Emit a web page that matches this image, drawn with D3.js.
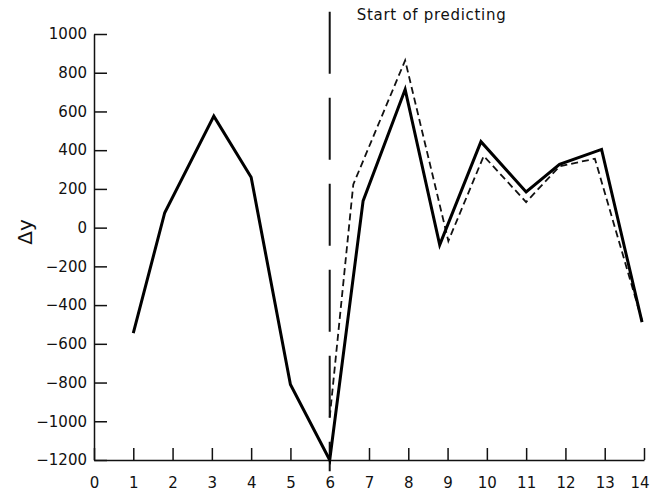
<!DOCTYPE html>
<html>
<head>
<meta charset="utf-8">
<script src="https://cdn.jsdelivr.net/npm/d3@7"></script>
<style>
body { margin: 0; background: #fff; }
text { font-family: "DejaVu Sans", sans-serif; fill: #111; }
</style>
</head>
<body>
<div id="chart"></div>
<script>
// data
var xTicks = [0, 1, 2, 3, 4, 5, 6, 7, 8, 9, 10, 11, 12, 13, 14];
var yTicks = [1000, 800, 600, 400, 200, 0, -200, -400, -600, -800, -1000, -1200];

// observed series (solid)
var actualX = [1, 1.8, 3.05, 4, 5, 6, 6.85, 7.92, 8.8, 9.85, 11, 11.85, 12.92, 13.95];
var actualY = [-545, 77, 576, 260, -810, -1200, 138, 714, -89, 444, 184, 327, 404, -488];

// predicted series (dashed)
var predX = [6, 6.6, 7.92, 9.02, 9.92, 11, 11.85, 12.75, 13.95];
var predY = [-980, 223, 864, -69, 370, 132, 317, 356, -480];

var predictStart = 6;
var predictLabel = "Start of predicting";

var svgWidth = 650;
var svgHeight = 492;
var margin = {top: 34, right: 6, bottom: 32, left: 94};
var chartWidth = svgWidth - margin.left - margin.right;
var chartHeight = svgHeight - margin.top - margin.bottom;

var svg = d3.select("#chart")
  .append("svg")
  .attr("width", svgWidth)
  .attr("height", svgHeight);

var chartGroup = svg.append("g")
  .attr("transform", `translate(${margin.left}, ${margin.top})`);

var x = d3.scaleLinear().domain([0, 14]).range([0, chartWidth]);
var y = d3.scaleLinear().domain([-1200, 1000]).range([chartHeight, 0]);

// axes
var leftAxis = d3.axisLeft(y)
  .tickValues(yTicks)
  .tickFormat(d3.format("d"))
  .tickSizeInner(-13)
  .tickSizeOuter(0)
  .tickPadding(7);

var bottomAxis = d3.axisBottom(x)
  .tickValues(xTicks)
  .tickFormat(d3.format("d"))
  .tickSizeInner(-12)
  .tickSizeOuter(0)
  .tickPadding(17);

var gy = chartGroup.append("g").call(leftAxis);
var gx = chartGroup.append("g")
  .attr("transform", `translate(0, ${chartHeight})`)
  .call(bottomAxis);

[gx, gy].forEach(function(g) {
  g.selectAll("path, line").attr("stroke", "#111").attr("stroke-width", 1.5);
  g.selectAll("text").style("font-size", "15px").attr("fill", "#111");
});

// last x label sits at the page edge, keep it inside
gx.selectAll(".tick text")
  .filter(d => d === 14)
  .attr("text-anchor", "end")
  .attr("dx", 5);

// y label
svg.append("text")
  .attr("transform", "translate(32, 232) rotate(-90)")
  .attr("text-anchor", "middle")
  .style("font-size", "20px")
  .text("Δy");

// start of predicting divider
chartGroup.append("line")
  .attr("x1", x(predictStart)).attr("x2", x(predictStart))
  .attr("y1", y(1115)).attr("y2", y(-1258))
  .attr("stroke", "#111")
  .attr("stroke-width", 2)
  .attr("stroke-dasharray", "62,24");

chartGroup.append("text")
  .attr("x", x(predictStart) + 27)
  .attr("y", -14)
  .attr("textLength", 149)
  .attr("lengthAdjust", "spacing")
  .style("font-size", "15px")
  .text(predictLabel);

var line = d3.line()
  .x(d => x(d[0]))
  .y(d => y(d[1]));

chartGroup.append("path")
  .datum(d3.zip(predX, predY))
  .attr("fill", "none")
  .attr("stroke", "#111")
  .attr("stroke-width", 1.8)
  .attr("stroke-dasharray", "7,4")
  .attr("d", line);

chartGroup.append("path")
  .datum(d3.zip(actualX, actualY))
  .attr("fill", "none")
  .attr("stroke", "#000")
  .attr("stroke-width", 3)
  .attr("stroke-linejoin", "miter")
  .attr("d", line);
</script>
</body>
</html>
